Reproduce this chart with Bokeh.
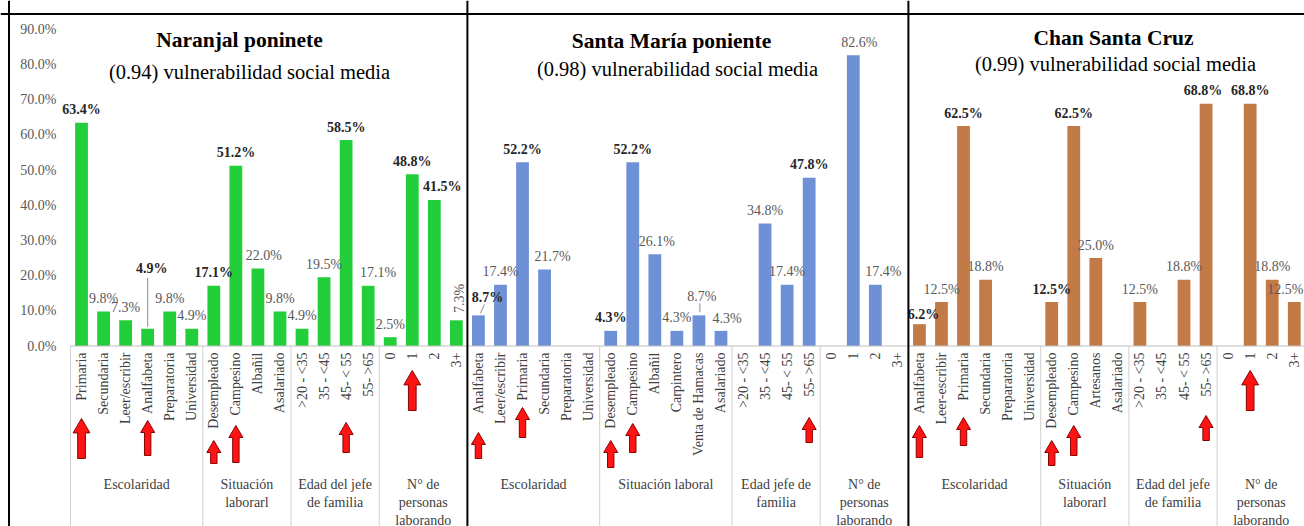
import math
from bokeh.plotting import figure
from bokeh.models import ColumnDataSource, Span
from bokeh.core.properties import value
from bokeh.embed import file_html
from bokeh.resources import INLINE

# ---------------- data ----------------
titles = ["Naranjal poninete", "Santa María poniente", "Chan Santa Cruz"]
subtitles = ["(0.94) vulnerabilidad social media",
             "(0.98) vulnerabilidad social media",
             "(0.99) vulnerabilidad social media"]

naranjal_groups = ["Escolaridad", "Situación\nlaborarl", "Edad del jefe\nde familia",
                   "N° de\npersonas\nlaborando"]
naranjal_group_sizes = [6, 4, 4, 4]
naranjal_categories = ["Primaria", "Secundaria", "Leer/escribir", "Analfabeta", "Preparatoria", "Universidad",
                       "Desempleado", "Campesino", "Albañil", "Asalariado",
                       ">20 - <35", "35 - <45", "45- < 55", "55- >65",
                       "0", "1", "2", "3+"]
naranjal_values = [63.4, 9.8, 7.3, 4.9, 9.8, 4.9,
                   17.1, 51.2, 22.0, 9.8,
                   4.9, 19.5, 58.5, 17.1,
                   2.5, 48.8, 41.5, 7.3]

santamaria_groups = ["Escolaridad", "Situación laboral", "Edad jefe de\nfamilia",
                     "N° de\npersonas\nlaborando"]
santamaria_group_sizes = [6, 6, 4, 4]
santamaria_categories = ["Analfabeta", "Leer/escribir", "Primaria", "Secundaria", "Preparatoria", "Universidad",
                         "Desempleado", "Campesino", "Albañil", "Carpintero", "Venta de Hamacas", "Asalariado",
                         ">20 - <35", "35 - <45", "45- < 55", "55- >65",
                         "0", "1", "2", "3+"]
santamaria_values = [8.7, 17.4, 52.2, 21.7, 0, 0,
                     4.3, 52.2, 26.1, 4.3, 8.7, 4.3,
                     0, 34.8, 17.4, 47.8,
                     0, 82.6, 17.4, 0]

chan_groups = ["Escolaridad", "Situación\nlaborarl", "Edad del jefe\nde familia",
               "N° de\npersonas\nlaborando"]
chan_group_sizes = [6, 4, 4, 4]
chan_categories = ["Analfabeta", "Leer-escribir", "Primaria", "Secundaria", "Preparatoria", "Universidad",
                   "Desempleado", "Campesino", "Artesanos", "Asalariado",
                   ">20 - <35", "35 - <45", "45- < 55", "55- >65",
                   "0", "1", "2", "3+"]
chan_values = [6.2, 12.5, 62.5, 18.8, 0, 0,
               12.5, 62.5, 25.0, 0,
               12.5, 0, 18.8, 68.8,
               0, 68.8, 18.8, 12.5]

y_ticks = [0, 10, 20, 30, 40, 50, 60, 70, 80, 90]

# ---------------- styling / layout ----------------
FONT = value("Liberation Serif")
W, H = 1304, 526
PXX = 22.05      # pixels per category slot
PXY = 3.52       # pixels per percentage point
X0_PAGE, Y0_PAGE = 70, 345.5


def xd(px):
    return (px - X0_PAGE) / PXX


def yd(py):
    return (Y0_PAGE - py) / PXY


panels = [
    dict(groups=naranjal_groups, sizes=naranjal_group_sizes, cats=naranjal_categories,
         vals=naranjal_values, color="#22cf3a",
         bold=[0, 3, 6, 7, 12, 15, 16],
         nudge={3: (4, -47, 0), 8: (6, 0, 0), 13: (10, 0, 0), 16: (8, 0, 0), 17: (3, -9, 90)},
         leaders={3: ((0, -2), (0, -51))},
         arrows=[(0, 418, 458, 1.2), (3, 420, 455, 1.0), (6, 440, 463, 1.0), (7, 425, 462, 1.0),
                 (12, 422, 452, 1.0), (15, 370, 410, 1.2)],
         title_xy=(239, 39), sub_xy=(249, 71)),
    dict(groups=santamaria_groups, sizes=santamaria_group_sizes, cats=santamaria_categories,
         vals=santamaria_values, color="#6e90d6",
         bold=[0, 2, 6, 7, 15],
         nudge={0: (9, -5, 0), 3: (8, 0, 0), 8: (2, 0, 0), 10: (3, -6, 0), 11: (6, 1, 0),
                17: (6, 0, 0), 18: (8, 0, 0)},
         leaders={0: ((2, -2), (6, -11)), 10: ((1, -3), (1, -12))},
         arrows=[(0, 432, 458, 1.0), (2, 407, 437, 1.0), (6, 440, 467, 1.0), (7, 423, 452, 1.0),
                 (15, 417, 442, 1.0)],
         title_xy=(671, 40), sub_xy=(677, 68)),
    dict(groups=chan_groups, sizes=chan_group_sizes, cats=chan_categories,
         vals=chan_values, color="#c27a46",
         bold=[0, 2, 6, 7, 13, 15],
         nudge={0: (4, 3, 0), 13: (-3, 0, 0), 17: (-9, 0, 0)},
         leaders={},
         arrows=[(0, 425, 457, 1.0), (2, 417, 445, 1.0), (6, 440, 465, 1.0), (7, 425, 455, 1.0),
                 (13, 415, 440, 1.0), (15, 370, 410, 1.2)],
         title_xy=(1113, 37), sub_xy=(1115, 63)),
]

p = figure(width=W, height=H, x_range=(xd(0), xd(W)), y_range=(yd(H), yd(0)),
           output_backend="svg", toolbar_location=None,
           x_axis_location=None, y_axis_location=None, min_border=0)
p.outline_line_color = None
p.grid.visible = False
p.background_fill_color = "white"
p.border_fill_color = "white"

# y tick labels
p.text(x=[xd(56)] * len(y_ticks), y=y_ticks, text=[f"{t:.1f}%" for t in y_ticks],
       text_font=FONT, text_font_size="14px", text_color="#595959",
       text_align="right", text_baseline="middle")

y_cat_top = yd(352)
y_group_top = yd(476)
y_bottom = yd(H + 5)

start = 0
panel_bounds = []
for k, pn in enumerate(panels):
    n = len(pn["cats"])
    xs = [start + i + 0.5 for i in range(n)]
    vals = pn["vals"]

    # bars
    p.vbar(x=xs, top=vals, width=0.58, bottom=0, fill_color=pn["color"], line_color=None)

    # data labels
    lx, ly, lt, ldx, ldy, lang, lstyle, lcol = [], [], [], [], [], [], [], []
    for i, v in enumerate(vals):
        if v <= 0:
            continue
        dx, dy, ang = pn["nudge"].get(i, (0, 0, 0))
        lx.append(xs[i]); ly.append(v); lt.append(f"{v:.1f}%")
        ldx.append(dx); ldy.append(-13 + dy); lang.append(math.radians(ang))
        b = i in pn["bold"]
        lstyle.append("bold" if b else "normal")
        lcol.append("#262626" if b else "#595959")
    src = ColumnDataSource(dict(x=lx, y=ly, text=lt, dx=ldx, dy=ldy, ang=lang, st=lstyle, col=lcol))
    p.text(x="x", y="y", text="text", x_offset="dx", y_offset="dy", angle="ang",
           text_font_style="st", text_color="col", source=src,
           text_font=FONT, text_font_size="14px", text_align="center", text_baseline="middle")

    # leader lines
    for i, ((sx, sy), (ex, ey)) in pn["leaders"].items():
        p.segment(x0=[xs[i] + sx / PXX], y0=[vals[i] - sy / PXY],
                  x1=[xs[i] + ex / PXX], y1=[vals[i] - ey / PXY],
                  line_color="#8c8c8c", line_width=1)

    # category labels (rotated)
    p.text(x=xs, y=[y_cat_top] * n, text=pn["cats"], angle=math.pi / 2,
           text_font=FONT, text_font_size="14px", text_color="#404040",
           text_align="right", text_baseline="middle")

    # baseline and group separators
    p.segment(x0=[start], x1=[start + n], y0=[0], y1=[0], line_color="#bfbfbf", line_width=1)
    edges = [start]
    for s in pn["sizes"]:
        edges.append(edges[-1] + s)
    sep_x = edges[:-1] if k == 0 else edges[1:-1]
    p.segment(x0=sep_x, x1=sep_x, y0=[0] * len(sep_x), y1=[y_bottom] * len(sep_x),
              line_color="#cfcfcf", line_width=1)
    gx = [(edges[j] + edges[j + 1]) / 2 for j in range(len(pn["sizes"]))]
    p.text(x=gx, y=[y_group_top] * len(gx), text=pn["groups"],
           text_font=FONT, text_font_size="14px", text_color="#404040",
           text_align="center", text_baseline="top", text_line_height=1.2)

    # red arrows
    axs, ays = [], []
    for (ci, tip, tail, sc) in pn["arrows"]:
        c = xs[ci]
        sw, hw, hl = 3.2 * sc / PXX, 7.0 * sc / PXX, 12.0 * sc
        t, b, hb = yd(tip), yd(tail), yd(tip + hl)
        axs.append([c, c + hw, c + sw, c + sw, c - sw, c - sw, c - hw])
        ays.append([t, hb, hb, b, b, hb, hb])
    p.patches(xs=axs, ys=ays, fill_color="#ff1414", line_color="#8a0000", line_width=1)

    # titles
    tx, ty = pn["title_xy"]
    sx_, sy_ = pn["sub_xy"]
    p.text(x=[xd(tx)], y=[yd(ty)], text=[titles[k]], text_font=FONT, text_font_size="21.5px",
           text_font_style="bold", text_color="black", text_align="center", text_baseline="middle")
    p.text(x=[xd(sx_)], y=[yd(sy_)], text=[subtitles[k]], text_font=FONT, text_font_size="20.5px",
           text_color="black", text_align="center", text_baseline="middle")

    panel_bounds.append(start)
    start += n

# borders and panel dividers
p.add_layout(Span(location=yd(13.5), dimension="width", line_color="black", line_width=2))
p.add_layout(Span(location=xd(8.5), dimension="height", line_color="black", line_width=2))
for b in panel_bounds[1:]:
    p.add_layout(Span(location=b, dimension="height", line_color="black", line_width=2))

open("out.html", "w").write(file_html(p, INLINE))
